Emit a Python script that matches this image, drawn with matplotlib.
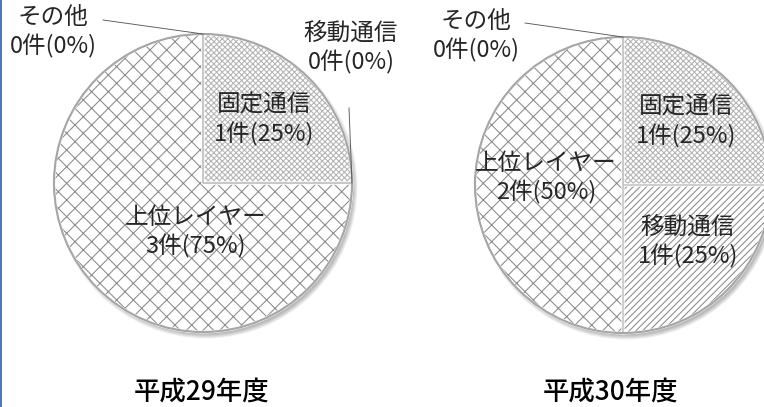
import matplotlib
matplotlib.use('Agg')
import matplotlib.pyplot as plt
from matplotlib.patches import Circle
import numpy as np

plt.rcParams['font.family'] = ['Noto Sans CJK JP', 'DejaVu Sans']
plt.rcParams['hatch.linewidth'] = 0.75

# data
categories = ['固定通信', '移動通信', '上位レイヤー', 'その他']
counts_h29 = [1, 0, 3, 0]
counts_h30 = [1, 1, 2, 0]
years = ['平成29年度', '平成30年度']

# fill patterns per category
hatches = ['xxxxxx', '/////', 'xx', 'xx']
hatch_colors = ['#b4b4b4', '#8a8a8a', '#8a8a8a', '#8a8a8a']

W, H, DPI = 764, 407, 100
fig = plt.figure(figsize=(W / DPI, H / DPI), dpi=DPI)
ax = fig.add_axes([0, 0, 1, 1])

TXT = '#262626'


def label_text(name, c, total):
    return f'{name}\n{c}件({round(100 * c / total)}%)'


def edge_point(wedge, center, radius):
    a = np.deg2rad(wedge.theta1)
    return center[0] + radius * np.cos(a), center[1] + radius * np.sin(a)


def draw_pie(counts, center, radius, label_pos, leaders, title, title_pos):
    cx, cy = center
    # soft shadow to the lower right
    for i in range(5):
        ax.add_patch(Circle((cx + 3, cy + 4), radius + 2.5 - i, color='black',
                            alpha=0.06, lw=0, zorder=1))
    total = sum(counts)
    wedges, _ = ax.pie(counts, center=center, radius=radius, startangle=-90,
                       counterclock=True, frame=True,
                       wedgeprops=dict(facecolor='white', linewidth=0))
    for w, h, c in zip(wedges, hatches, hatch_colors):
        w.set_hatch(h)
        w.set_edgecolor(c)
        w.set_zorder(2)
    # separators between slices
    seps, _ = ax.pie(counts, center=center, radius=radius, startangle=-90,
                     counterclock=True, frame=True,
                     wedgeprops=dict(facecolor='none', edgecolor='white', linewidth=2.0))
    for s in seps:
        s.set_zorder(3)
    seps, _ = ax.pie(counts, center=center, radius=radius, startangle=-90,
                     counterclock=True, frame=True,
                     wedgeprops=dict(facecolor='none', edgecolor='#c4c4c4', linewidth=0.8))
    for s in seps:
        s.set_zorder(3)
    ax.add_patch(Circle(center, radius, facecolor='none', edgecolor='#a6a6a6',
                        lw=1.5, zorder=4))

    for i, name in enumerate(categories):
        x, y = label_pos[i]
        ax.text(x, y, label_text(name, counts[i], total), ha='center', va='center',
                fontsize=17, color=TXT, linespacing=1.25, zorder=5)
        if i in leaders:
            ex, ey = edge_point(wedges[i], center, radius)
            sx, sy = leaders[i]
            ax.plot([sx, ex], [sy, ey], color='#595959', lw=0.65, zorder=5)

    ax.text(title_pos[0], title_pos[1], title, ha='center', va='center',
            fontsize=19, color='black', fontweight='medium')


draw_pie(counts_h29, (203, 183), 149,
         [(264, 120), (351, 48), (196, 232), (53, 32)],
         {1: (349, 108), 3: (103, 20)},
         years[0], (202, 392))

draw_pie(counts_h30, (623, 185), 148,
         [(686, 122), (688, 242), (546, 178), (476, 36)],
         {3: (525, 23)},
         years[1], (610, 392))

# left border
ax.axvline(0.8, color='#4a76b8', lw=1.4, zorder=6)

ax.set_xlim(0, W)
ax.set_ylim(H, 0)
ax.set_aspect('equal')
ax.axis('off')

fig.savefig('out.png', dpi=DPI)
